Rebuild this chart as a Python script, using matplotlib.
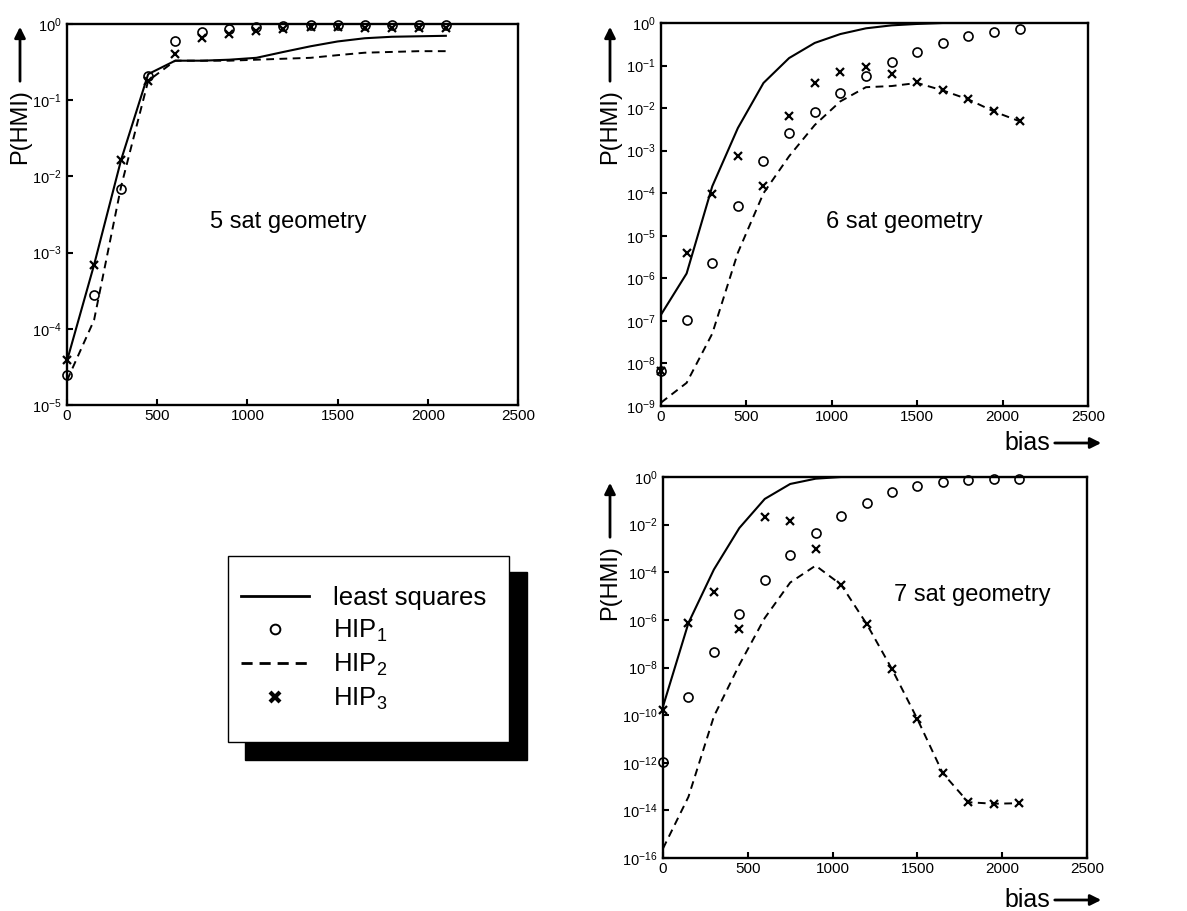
import numpy as np
import matplotlib
matplotlib.use('Agg')
import matplotlib.pyplot as plt
from matplotlib.patches import Rectangle, FancyArrowPatch
from matplotlib.lines import Line2D
from matplotlib.ticker import NullLocator

plt.rcParams['font.family'] = ['Liberation Sans', 'DejaVu Sans']
plt.rcParams['mathtext.fontset'] = 'custom'
plt.rcParams['mathtext.rm'] = 'Liberation Sans'
plt.rcParams['mathtext.it'] = 'Liberation Sans'
plt.rcParams['mathtext.default'] = 'regular'

# dados
bias = [0, 150, 300, 450, 600, 750, 900, 1050, 1200, 1350, 1500, 1650, 1800, 1950, 2100]

# 5 satelites
ls_5 = [3.8e-5, 6.9e-4, 0.0165, 0.22, 0.33, 0.33, 0.34, 0.36, 0.43, 0.51, 0.59, 0.65, 0.68, 0.69, 0.70]
hip1_5 = [2.5e-5, 2.8e-4, 6.9e-3, 0.21, 0.60, 0.79, 0.86, 0.92, 0.94, 0.97, 0.97, 0.97, 0.97, 0.97, 0.97]
hip2_5 = [2.1e-5, 1.3e-4, 7.4e-3, 0.18, 0.33, 0.33, 0.33, 0.34, 0.35, 0.36, 0.39, 0.42, 0.43, 0.44, 0.44]
hip3_5 = [3.9e-5, 6.9e-4, 0.0164, 0.18, 0.41, 0.65, 0.75, 0.81, 0.85, 0.90, 0.90, 0.88, 0.88, 0.88, 0.88]

# 6 satelites
ls_6 = [1.4e-7, 1.3e-6, 1.45e-4, 3.4e-3, 0.039, 0.15, 0.34, 0.55, 0.75, 0.88, 0.95, 1.0, 1.0, 1.0, 1.0]
hip1_6 = [6.7e-9, 1.07e-7, 2.3e-6, 5.1e-5, 5.6e-4, 2.6e-3, 7.9e-3, 0.023, 0.058, 0.12, 0.21, 0.34, 0.49, 0.63, 0.74]
hip2_6 = [1.2e-9, 3.5e-9, 5e-8, 4e-6, 1e-4, 7.4e-4, 4e-3, 0.0144, 0.031, 0.033, 0.039, 0.026, 0.016, 0.0083, 0.0049]
hip3_6 = [6.7e-9, 3.9e-6, 9.6e-5, 7.4e-4, 1.45e-4, 6.7e-3, 0.039, 0.07, 0.091, 0.063, 0.041, 0.026, 0.016, 0.0087, 0.005]

# 7 satelites
ls_7 = [2.3e-10, 7.4e-7, 1.3e-4, 7.2e-3, 0.12, 0.51, 0.85, 1.0, 1.0, 1.0, 1.0, 1.0, 1.0, 1.0, 1.0]
hip1_7 = [1.07e-12, 5.7e-10, 4.3e-8, 1.8e-6, 4.9e-5, 5.5e-4, 4.5e-3, 0.022, 0.081, 0.23, 0.43, 0.62, 0.77, 0.85, 0.85]
hip2_7 = [2.5e-16, 3.7e-14, 8.8e-11, 1.3e-8, 1.2e-6, 3.7e-5, 1.9e-4, 3e-5, 6.9e-7, 8.6e-9, 6.8e-11, 3.6e-13, 2.2e-14, 1.9e-14, 2e-14]
hip3_7 = [1.7e-10, 7.4e-7, 1.5e-5, 4.3e-7, 0.021, 0.014, 9.5e-4, 3e-5, 6.9e-7, 8.6e-9, 6.8e-11, 3.6e-13, 2.2e-14, 1.9e-14, 2e-14]

W, H = 1187, 911
fig = plt.figure(figsize=(W / 100, H / 100), dpi=100)


def px(x0, y0, x1, y1):
    # retangulo em pixels -> fracao da figura
    return [x0 / W, 1 - y1 / H, (x1 - x0) / W, (y1 - y0) / H]


def painel(rect, ls, h1, h2, h3, exp_min, passo, texto, tx, ty):
    ax = fig.add_axes(px(*rect))
    ax.semilogy(bias, ls, color='black', lw=1.5)
    ax.semilogy(bias, h2, color='black', lw=1.4, ls='--', dashes=(4, 2.8))
    ax.semilogy(bias, h1, 'o', color='black', mfc='none', ms=6.5, mew=1.2, clip_on=False)
    ax.semilogy(bias, h3, 'x', color='black', ms=5.5, mew=1.6, clip_on=False)
    ax.set_xlim(0, 2500)
    ax.set_ylim(10.0 ** exp_min, 1)
    ax.set_xticks([0, 500, 1000, 1500, 2000, 2500])
    exps = list(range(0, exp_min - 1, -passo))
    ax.set_yticks([10.0 ** e for e in exps])
    ax.set_yticklabels([f'$10^{{{e}}}$' for e in exps])
    ax.yaxis.set_minor_locator(NullLocator())
    ax.tick_params(direction='in', length=4, width=1.5, labelsize=11, pad=3)
    ax.tick_params(axis='y', labelsize=10.5, pad=4)
    for s in ax.spines.values():
        s.set_linewidth(1.7)
    ax.text(tx, ty, texto, transform=ax.transAxes, fontsize=17, ha='center', va='center')
    return ax


def seta_y(x, ytxt, y0, y1):
    fig.text(x / W, 1 - ytxt / H, 'P(HMI)', rotation=90, fontsize=17, ha='center', va='center')
    fig.add_artist(FancyArrowPatch((x / W, 1 - y0 / H), (x / W, 1 - y1 / H),
                                   transform=fig.transFigure, arrowstyle='-|>',
                                   mutation_scale=16, lw=2, color='black'))


def seta_x(xtxt, y, x0, x1):
    fig.text(xtxt / W, 1 - y / H, 'bias', fontsize=18, ha='center', va='center')
    fig.add_artist(FancyArrowPatch((x0 / W, 1 - y / H), (x1 / W, 1 - y / H),
                                   transform=fig.transFigure, arrowstyle='-|>',
                                   mutation_scale=16, lw=2, color='black'))


painel((67, 24, 518, 405), ls_5, hip1_5, hip2_5, hip3_5, -5, 1, '5 sat geometry', 0.49, 0.48)
painel((661, 23, 1088, 406), ls_6, hip1_6, hip2_6, hip3_6, -9, 1, '6 sat geometry', 0.569, 0.48)
painel((663, 477, 1087, 858), ls_7, hip1_7, hip2_7, hip3_7, -16, 2, '7 sat geometry', 0.729, 0.69)

seta_y(20, 127, 84, 24)
seta_y(610, 127, 84, 24)
seta_y(610, 583, 540, 480)
seta_x(1027, 443, 1052, 1104)
seta_x(1027, 900, 1052, 1104)

# legenda com sombra preta
fig.add_artist(Rectangle((245 / W, 1 - 760 / H), (527 - 245) / W, (760 - 572) / H,
                         transform=fig.transFigure, facecolor='black', edgecolor='black'))
fig.add_artist(Rectangle((228 / W, 1 - 742 / H), (509 - 228) / W, (742 - 556) / H,
                         transform=fig.transFigure, facecolor='white', edgecolor='black', lw=1))

handles = [Line2D([], [], color='black', lw=2),
           Line2D([], [], color='black', marker='o', mfc='none', ms=7, mew=1.4, ls='none'),
           Line2D([], [], color='black', lw=2, ls='--', dashes=(4, 2.5)),
           Line2D([], [], color='black', marker='x', ms=7, mew=3, ls='none')]
labels = ['least squares', 'HIP$_1$', 'HIP$_2$', 'HIP$_3$']
fig.legend(handles, labels, loc='upper left', bbox_to_anchor=(241 / W, 1 - 586 / H),
           frameon=False, fontsize=18.5, handlelength=2.65, handletextpad=0.93,
           labelspacing=0.3, borderpad=0, borderaxespad=0)

fig.savefig('out.png', dpi=100)
